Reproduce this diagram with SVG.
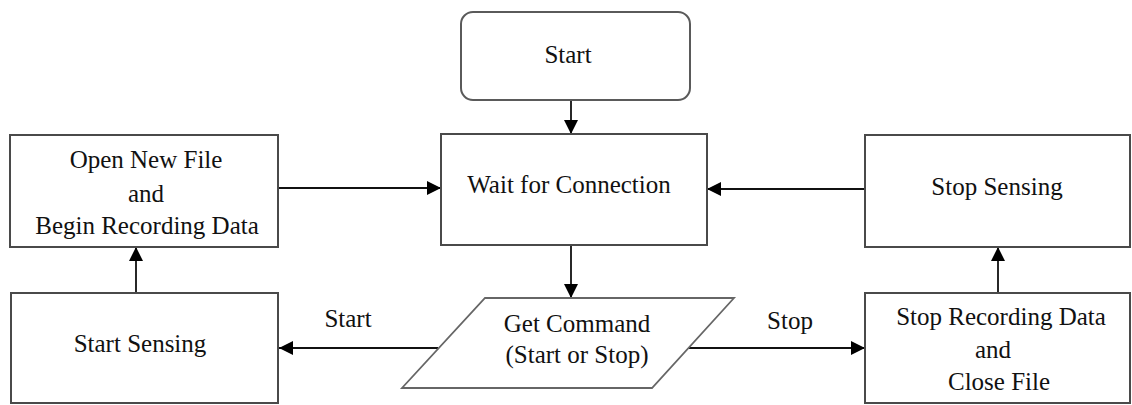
<svg xmlns="http://www.w3.org/2000/svg" width="1132" height="405" viewBox="0 0 1132 405">
  <style>
    .box { fill: #ffffff; stroke: #4a4a4a; stroke-width: 2; }
    .term { fill: #ffffff; stroke: #5a5a5a; stroke-width: 2; }
    .io { fill: #ffffff; stroke: #666666; stroke-width: 1.8; }
    .lbl { font-family: "Times New Roman", Times, "Liberation Serif", Tinos, "DejaVu Serif", serif; font-size: 25px; fill: #111111; text-anchor: middle; }
    .edge { fill: none; stroke: #111111; stroke-width: 1.8; marker-end: url(#arrow); }
  </style>
  <defs>
    <marker id="arrow" markerUnits="userSpaceOnUse" markerWidth="14" markerHeight="14" refX="14" refY="7" orient="auto">
      <path d="M0,0 L14,7 L0,14 z" fill="#000000"/>
    </marker>
  </defs>

  <rect width="1132" height="405" fill="#ffffff"/>

  <g id="connectors">
    <line class="edge" x1="571" y1="100" x2="571" y2="134"/>
    <line class="edge" x1="571" y1="245" x2="571" y2="298"/>
    <line class="edge" x1="438" y1="348" x2="279" y2="348"/>
    <line class="edge" x1="689" y1="348" x2="865" y2="348"/>
    <line class="edge" x1="136" y1="293" x2="136" y2="247"/>
    <line class="edge" x1="278" y1="188" x2="441" y2="188"/>
    <line class="edge" x1="998" y1="293" x2="998" y2="247"/>
    <line class="edge" x1="865" y1="189" x2="707" y2="189"/>
    <text class="lbl" x="348" y="327">Start</text>
    <text class="lbl" x="790" y="329">Stop</text>
  </g>

  <g id="start">
    <rect class="term" x="461" y="12" width="229" height="88" rx="12" ry="12"/>
    <text class="lbl" x="568" y="63">Start</text>
  </g>

  <g id="wait-connection">
    <rect class="box" x="441" y="134" width="266" height="111"/>
    <text class="lbl" x="569" y="193">Wait for Connection</text>
  </g>

  <g id="get-command">
    <polygon class="io" points="485,298 734,298 652,388 402,388"/>
    <text class="lbl" x="577" y="332">Get Command</text>
    <text class="lbl" x="577" y="363">(Start or Stop)</text>
  </g>

  <g id="open-file">
    <rect class="box" x="10" y="135" width="268" height="112"/>
    <text class="lbl" x="146" y="168">Open New File</text>
    <text class="lbl" x="146" y="202">and</text>
    <text class="lbl" x="147" y="234">Begin Recording Data</text>
  </g>

  <g id="start-sensing">
    <rect class="box" x="11" y="293" width="267" height="110"/>
    <text class="lbl" x="140" y="352">Start Sensing</text>
  </g>

  <g id="stop-sensing">
    <rect class="box" x="865" y="135" width="265" height="112"/>
    <text class="lbl" x="997" y="195">Stop Sensing</text>
  </g>

  <g id="stop-recording">
    <rect class="box" x="865" y="293" width="265" height="110"/>
    <text class="lbl" x="1001" y="325">Stop Recording Data</text>
    <text class="lbl" x="993" y="358">and</text>
    <text class="lbl" x="999" y="390">Close File</text>
  </g>
</svg>
